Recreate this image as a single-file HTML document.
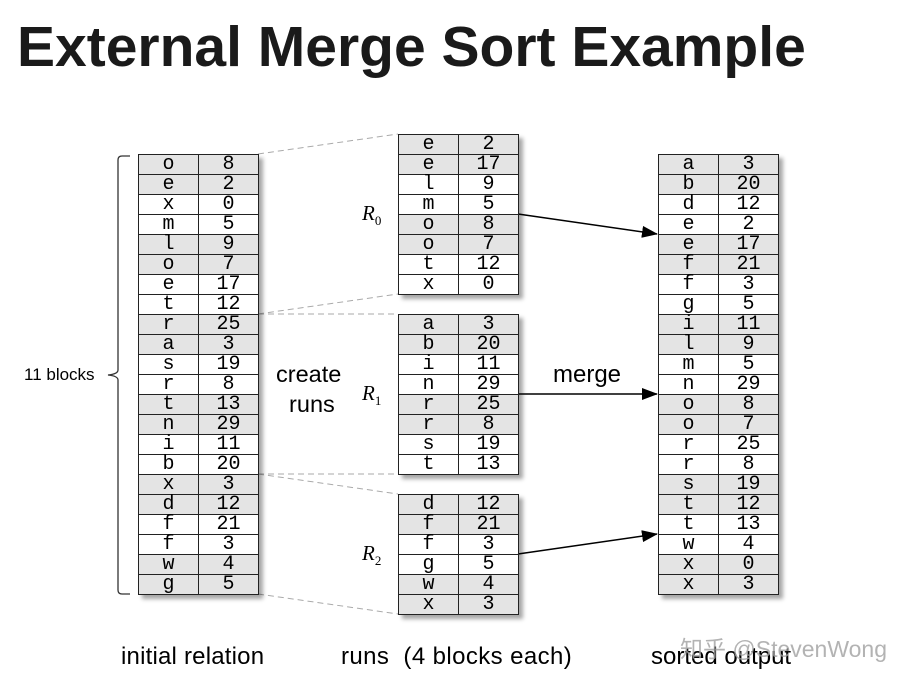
<!DOCTYPE html>
<html><head><meta charset="utf-8"><style>
body{margin:0;width:899px;height:686px;background:#fff;overflow:hidden;position:relative;font-family:"Liberation Sans",sans-serif}
.t{position:absolute;border-collapse:collapse;box-shadow:4px 4px 4px rgba(0,0,0,.35);font-family:"Liberation Mono","DejaVu Sans Mono",monospace;font-size:20px}
.t td{width:59px;height:19px;border:1px solid #222;text-align:center;padding:0;line-height:19px}
.t tr.g td{background:#e4e4e4}
.a{position:absolute;white-space:nowrap}
</style></head><body>
<div class="a" style="left:17px;top:14px;font-size:57px;font-weight:bold;color:#1a1a1a">External Merge Sort Example</div>
<svg style="position:absolute;left:0;top:0" width="899" height="686">
<defs><marker id="m" markerWidth="16" markerHeight="12" refX="15" refY="6" orient="auto" markerUnits="userSpaceOnUse"><path d="M0,0L16,6L0,12z" fill="#000"/></marker></defs>
<g stroke="#aaa" stroke-dasharray="6,4" fill="none">
<line x1="258" y1="154" x2="398" y2="134"/><line x1="258" y1="314" x2="398" y2="294"/>
<line x1="258" y1="314" x2="398" y2="314"/><line x1="258" y1="474" x2="398" y2="474"/>
<line x1="258" y1="474" x2="398" y2="494"/><line x1="258" y1="594" x2="398" y2="614"/>
</g>
<path d="M130,156 H122 Q118,156 118,160 V370 Q118,374 108,375 Q118,376 118,380 V590 Q118,594 122,594 H130" stroke="#333" fill="none" stroke-width="1.3"/>
<g stroke="#000" stroke-width="1.5" marker-end="url(#m)">
<line x1="518" y1="214" x2="657" y2="234"/><line x1="518" y1="394" x2="657" y2="394"/><line x1="518" y1="554" x2="657" y2="534"/>
</g>
</svg>
<div class="a" style="left:24px;top:365px;font-size:17px">11 blocks</div>
<div class="a" style="left:276px;top:359px;font-size:23.5px;text-align:center;line-height:30px">create<br>&nbsp;runs</div>
<div class="a" style="left:553px;top:361px;font-size:24px">merge</div>
<div class="a" style="left:362px;top:201px;font-size:21px;font-family:'Liberation Serif',serif;font-style:italic">R<sub style="font-size:13px;font-style:normal">0</sub></div>
<div class="a" style="left:362px;top:381px;font-size:21px;font-family:'Liberation Serif',serif;font-style:italic">R<sub style="font-size:13px;font-style:normal">1</sub></div>
<div class="a" style="left:362px;top:541px;font-size:21px;font-family:'Liberation Serif',serif;font-style:italic">R<sub style="font-size:13px;font-style:normal">2</sub></div>
<div class="a" style="left:121px;top:643px;font-size:24px;letter-spacing:0.2px">initial relation</div>
<div class="a" style="left:341px;top:643px;font-size:24px;letter-spacing:0.4px">runs&nbsp; (4 blocks each)</div>
<div class="a" style="left:651px;top:643px;font-size:24px">sorted output</div>
<div class="a" style="left:680px;top:630px;font-size:23px;color:rgba(160,160,160,.8);font-family:'Liberation Sans','Noto Sans CJK SC',sans-serif">知乎 @StevenWong</div>
<div id="c"></div>
<script>
function tb(x,y,d){let h='<table class="t" style="left:'+x+'px;top:'+y+'px">';d.split(' ').forEach((p,i)=>{let [a,b]=p.split(',');h+='<tr class="'+(Math.floor(i/2)%2==0?'g':'')+'"><td>'+a+'</td><td>'+b+'</td></tr>'});return h+'</table>'}
document.getElementById('c').innerHTML=
tb(138,154,'o,8 e,2 x,0 m,5 l,9 o,7 e,17 t,12 r,25 a,3 s,19 r,8 t,13 n,29 i,11 b,20 x,3 d,12 f,21 f,3 w,4 g,5')+
tb(398,134,'e,2 e,17 l,9 m,5 o,8 o,7 t,12 x,0')+
tb(398,314,'a,3 b,20 i,11 n,29 r,25 r,8 s,19 t,13')+
tb(398,494,'d,12 f,21 f,3 g,5 w,4 x,3')+
tb(658,154,'a,3 b,20 d,12 e,2 e,17 f,21 f,3 g,5 i,11 l,9 m,5 n,29 o,8 o,7 r,25 r,8 s,19 t,12 t,13 w,4 x,0 x,3');
</script>
</body></html>
